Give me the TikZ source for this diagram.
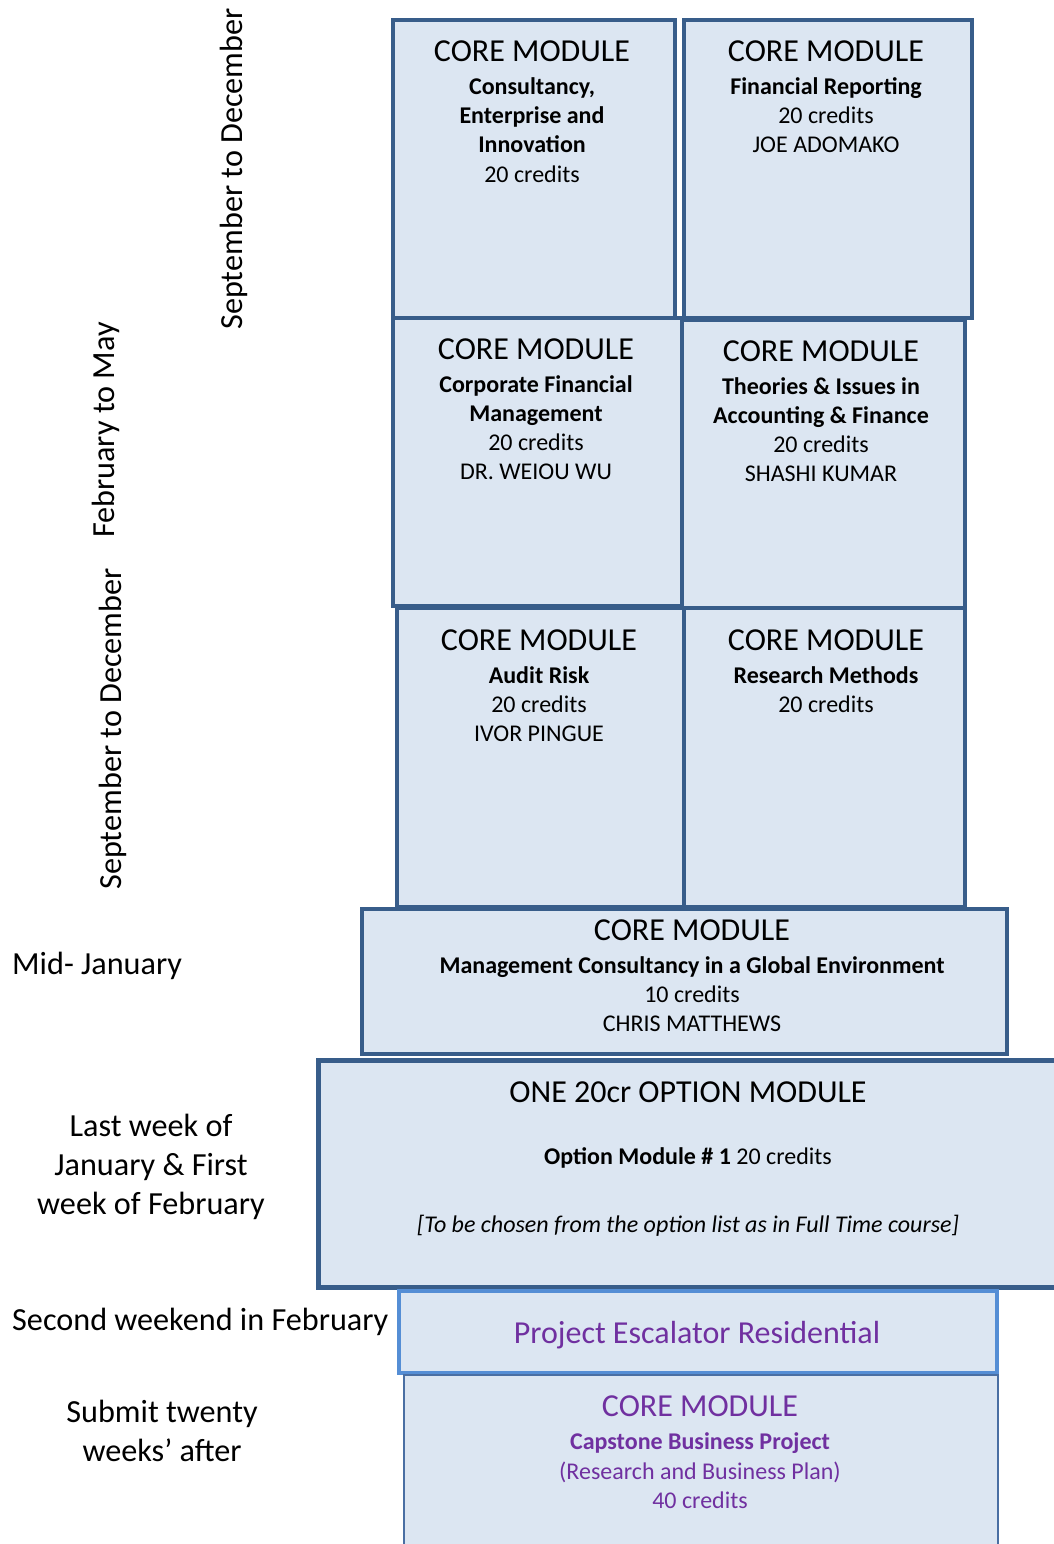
\documentclass[tikz,border=0pt]{standalone}
\usepackage{fontspec}
\setmainfont{Carlito}
\definecolor{boxfill}{HTML}{DCE6F2}
\definecolor{boxline}{HTML}{385D8A}
\definecolor{lightline}{HTML}{558ED5}
\definecolor{thinline}{HTML}{4A6FA3}
\definecolor{purp}{HTML}{7030A0}
\begin{document}
\begin{tikzpicture}[x=1pt,y=-1pt,
  mod/.style={draw=boxline, fill=boxfill, line width=4pt, inner sep=0pt, anchor=north west},
  ttl/.style={anchor=base, font=\fontsize{32}{38}\selectfont, inner sep=0pt},
  bd/.style={anchor=base, font=\fontsize{24}{29}\selectfont, inner sep=0pt},
  bdb/.style={bd, font=\fontsize{24}{29}\selectfont\bfseries},
  side/.style={font=\fontsize{32.2}{38}\selectfont, inner sep=0pt}]
\useasboundingbox (0,0) rectangle (1054,1544);
\clip (0,0) rectangle (1054,1544);
% boxes
\node[mod, minimum width=282pt, minimum height=298pt] (b1) at (391,18) {};
\node[mod, minimum width=288pt, minimum height=298pt] (b2) at (682,18) {};
\node[mod, minimum width=289pt, minimum height=288pt] (b3) at (391,316) {};
\node[mod, minimum width=283pt, minimum height=288pt] (b4) at (680,318) {};
\node[mod, minimum width=287pt, minimum height=299pt] (b5) at (395,606) {};
\node[mod, minimum width=281pt, minimum height=299pt] (b6) at (682,606) {};
\node[mod, minimum width=645pt, minimum height=145pt] (b7) at (360,907) {};
\node[mod, line width=5pt, minimum width=760pt, minimum height=227pt] (b8) at (316,1058) {};
\node[mod, draw=lightline, line width=3.5pt, minimum width=598pt, minimum height=82pt] (b9) at (397,1289) {};
\node[mod, draw=thinline, line width=2pt, minimum width=594pt, minimum height=200pt] (b10) at (403,1374) {};
% box 1
\node[ttl] (t1a) at (532,62) {CORE MODULE};
\node[bdb] (t1b) at (532,95) {Consultancy,};
\node[bdb] (t1c) at (532,124) {Enterprise and};
\node[bdb] (t1d) at (532,153) {Innovation};
\node[bd] (t1e) at (532,182) {20 credits};
% box 2
\node[ttl] (t2a) at (826,62) {CORE MODULE};
\node[bdb] (t2b) at (826,95) {Financial Reporting};
\node[bd] (t2c) at (826,124) {20 credits};
\node[bd] (t2d) at (826,153) {JOE ADOMAKO};
% box 3
\node[ttl] (t3a) at (536,359) {CORE MODULE};
\node[bdb] (t3b) at (536,392) {Corporate Financial};
\node[bdb] (t3c) at (536,421) {Management};
\node[bd] (t3d) at (536,450) {20 credits};
\node[bd] (t3e) at (536,479) {DR. WEIOU WU};
% box 4
\node[ttl] (t4a) at (821,361) {CORE MODULE};
\node[bdb] (t4b) at (821,394) {Theories \& Issues in};
\node[bdb] (t4c) at (821,423) {Accounting \& Finance};
\node[bd] (t4d) at (821,452) {20 credits};
\node[bd] (t4e) at (821,481) {SHASHI KUMAR};
% box 5
\node[ttl] (t5a) at (539,650) {CORE MODULE};
\node[bdb] (t5b) at (539,683) {Audit Risk};
\node[bd] (t5c) at (539,712) {20 credits};
\node[bd] (t5d) at (539,741) {IVOR PINGUE};
% box 6
\node[ttl] (t6a) at (826,650) {CORE MODULE};
\node[bdb] (t6b) at (826,683) {Research Methods};
\node[bd] (t6c) at (826,712) {20 credits};
% box 7
\node[ttl] (t7a) at (692,940) {CORE MODULE};
\node[bdb] (t7b) at (692,973) {Management Consultancy in a Global Environment};
\node[bd] (t7c) at (692,1002) {10 credits};
\node[bd] (t7d) at (692,1031) {CHRIS MATTHEWS};
% box 8
\node[ttl] (t8a) at (688,1102) {ONE 20cr OPTION MODULE};
\node[bd] (t8b) at (688,1164) {\textbf{Option Module \# 1} 20 credits};
\node[bd] (t8c) at (688,1232) {\itshape [To be chosen from the option list as in Full Time course]};
% box 9
\node[ttl, text=purp] (t9a) at (697,1343) {Project Escalator Residential};
% box 10
\node[ttl, text=purp] (t10a) at (700,1416) {CORE MODULE};
\node[bdb, text=purp] (t10b) at (700,1449) {Capstone Business Project};
\node[bd, text=purp] (t10c) at (700,1479) {(Research and Business Plan)};
\node[bd, text=purp] (t10d) at (700,1508) {40 credits};
% side labels
\node[side, rotate=90] (s1) at (234,169) {September to December};
\node[side, rotate=90] (s2) at (106,430) {February to May};
\node[side, rotate=90] (s3) at (113,729) {September to December};
\node[side, anchor=base west] (s4) at (12,974) {Mid- January};
\node[side, anchor=base] (s5a) at (151,1136) {Last week of};
\node[side, anchor=base] (s5b) at (151,1175) {January \& First};
\node[side, anchor=base] (s5c) at (151,1214) {week of February};
\node[side, anchor=base west] (s6) at (12,1330) {Second weekend in February};
\node[side, anchor=base] (s7a) at (162,1422) {Submit twenty};
\node[side, anchor=base] (s7b) at (162,1461) {weeks’ after};
\end{tikzpicture}
\end{document}
